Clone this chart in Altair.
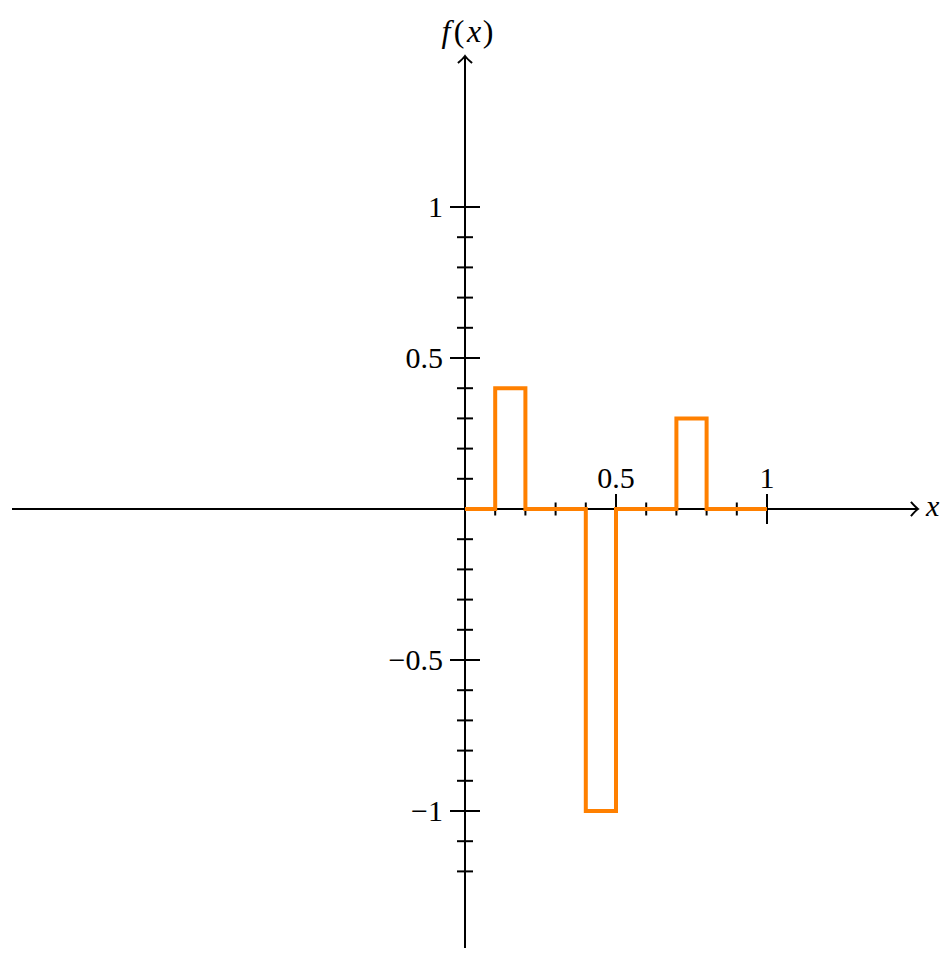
import altair as alt
import pandas as pd

# ---- data ----
step_edges = [0.0, 0.1, 0.2, 0.4, 0.5, 0.7, 0.8, 1.0]
step_levels = [0.0, 0.4, 0.0, -1.0, 0.0, 0.3, 0.0]

x_ticks = [0.1, 0.2, 0.3, 0.4, 0.5, 0.6, 0.7, 0.8, 0.9, 1.0]
x_major = [0.5, 1.0]
x_labels = ["0.5", "1"]

y_ticks = [-1.2, -1.1, -1.0, -0.9, -0.8, -0.7, -0.6, -0.5, -0.4, -0.3, -0.2, -0.1,
           0.1, 0.2, 0.3, 0.4, 0.5, 0.6, 0.7, 0.8, 0.9, 1.0]
y_major = [-1.0, -0.5, 0.5, 1.0]
y_labels = ["\u22121", "\u22120.5", "0.5", "1"]

title_parts = ["f", "(", "x", ")"]
title_styles = ["italic", "normal", "italic", "normal"]

axis_min, axis_max = -1.5, 1.5

# ---- layout ----
W, H = 934, 940
ORIG_X, ORIG_Y, PX = 457, 501, 302  # origin in chart pixels, pixels per unit
xdom = [(0 - ORIG_X) / PX, (W - ORIG_X) / PX]
ydom = [(ORIG_Y - H) / PX, (ORIG_Y - 0) / PX]
xs = alt.Scale(domain=xdom, nice=False, zero=False)
ys = alt.Scale(domain=ydom, nice=False, zero=False)

def X(f="x"):
    return alt.X(f"{f}:Q", scale=xs, axis=None)

def Y(f="y"):
    return alt.Y(f"{f}:Q", scale=ys, axis=None)

# step path
pts = []
o = 0
for i, v in enumerate(step_levels):
    pts.append({"x": step_edges[i], "y": v, "o": o}); o += 1
    pts.append({"x": step_edges[i + 1], "y": v, "o": o}); o += 1
step_df = pd.DataFrame(pts)

BLACK = "#000000"
ORANGE = "#ff8000"
FONT = "Liberation Serif"
FS = 30

# axes lines
xaxis = alt.Chart(pd.DataFrame({"x": [axis_min], "x2": [axis_max], "y": [0.0]})).mark_rule(
    color=BLACK, strokeWidth=2).encode(x=X(), x2="x2:Q", y=Y())
yaxis = alt.Chart(pd.DataFrame({"y": [ydom[0]], "y2": [axis_max], "x": [0.0]})).mark_rule(
    color=BLACK, strokeWidth=2).encode(y=Y(), y2="y2:Q", x=X())

# arrowheads
right_arrow = alt.Chart(pd.DataFrame({"x": [axis_max], "y": [0.0]})).mark_point(
    shape="M -1 -1 Q -0.35 -0.25 0 0 Q -0.35 0.25 -1 1", filled=False, size=200,
    color=BLACK, strokeWidth=2, opacity=1).encode(x=X(), y=Y())
up_arrow = alt.Chart(pd.DataFrame({"x": [0.0], "y": [axis_max]})).mark_point(
    shape="M -1 1 Q -0.25 0.35 0 0 Q 0.25 0.35 1 1", filled=False, size=200,
    color=BLACK, strokeWidth=2, opacity=1).encode(x=X(), y=Y())

# ticks
xt_df = pd.DataFrame({"x": x_ticks, "y": 0.0,
                      "major": [t in x_major for t in x_ticks]})
xt_minor = alt.Chart(xt_df[~xt_df.major]).mark_tick(
    orient="vertical", size=13, thickness=2, color=BLACK, opacity=1).encode(x=X(), y=Y())
xt_major = alt.Chart(xt_df[xt_df.major]).mark_tick(
    orient="vertical", size=30, thickness=2, color=BLACK, opacity=1).encode(x=X(), y=Y())

yt_df = pd.DataFrame({"y": y_ticks, "x": 0.0,
                      "major": [t in y_major for t in y_ticks]})
yt_minor = alt.Chart(yt_df[~yt_df.major]).mark_tick(
    orient="horizontal", size=16, thickness=2, color=BLACK, opacity=1).encode(x=X(), y=Y())
yt_major = alt.Chart(yt_df[yt_df.major]).mark_tick(
    orient="horizontal", size=30, thickness=2, color=BLACK, opacity=1).encode(x=X(), y=Y())

# tick labels
xl = alt.Chart(pd.DataFrame({"x": x_major, "y": 0.0, "t": x_labels})).mark_text(
    font=FONT, fontSize=FS, align="center", baseline="alphabetic", dy=-21, color=BLACK
).encode(x=X(), y=Y(), text="t:N")
yl = alt.Chart(pd.DataFrame({"y": y_major, "x": 0.0, "t": y_labels})).mark_text(
    font=FONT, fontSize=FS, align="right", baseline="middle", dx=-22, dy=1, color=BLACK
).encode(x=X(), y=Y(), text="t:N")

# axis titles
xtitle = alt.Chart(pd.DataFrame({"x": [axis_max], "y": [0.0], "t": ["x"]})).mark_text(
    font=FONT, fontSize=FS, fontStyle="italic", align="left", baseline="middle", dx=8, dy=-2,
    color=BLACK).encode(x=X(), y=Y(), text="t:N")

title_dx = [-19, -6, 9, 23]
ytitle_layers = []
for part, style, dx in zip(title_parts, title_styles, title_dx):
    ytitle_layers.append(
        alt.Chart(pd.DataFrame({"x": [0.0], "y": [axis_max], "t": [part]})).mark_text(
            font=FONT, fontSize=FS + 2, fontStyle=style, align="center",
            baseline="alphabetic", dx=dx, dy=-14, color=BLACK
        ).encode(x=X(), y=Y(), text="t:N")
    )

# step function
step = alt.Chart(step_df).mark_line(color=ORANGE, strokeWidth=4, strokeJoin="miter",
                                    strokeCap="butt").encode(
    x=X(), y=Y(), order="o:Q")

chart = alt.layer(
    xaxis, yaxis, right_arrow, up_arrow,
    xt_minor, xt_major, yt_minor, yt_major,
    step, xl, yl, xtitle, *ytitle_layers
).properties(
    width=W, height=H, padding=0, autosize=alt.AutoSizeParams(type="none")
).configure_view(stroke=None)

chart.save("out.html", embed_options={"renderer": "svg", "actions": False})
